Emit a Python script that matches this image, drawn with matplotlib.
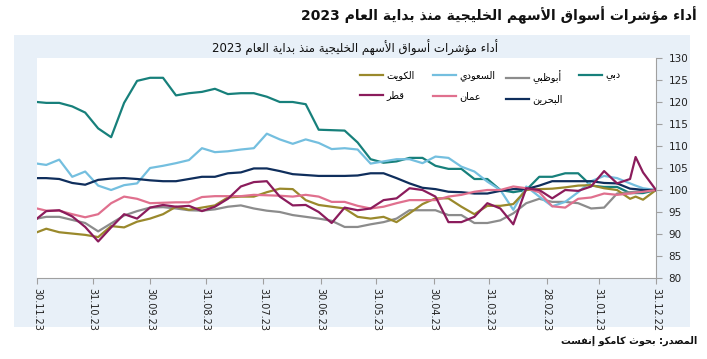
import re
import matplotlib
matplotlib.use("Agg")
import matplotlib.pyplot as plt
from matplotlib.patches import Rectangle
import pandas as pd

title_outer = "أداء مؤشرات أسواق الأسهم الخليجية منذ بداية العام 2023"
title_inner = "أداء مؤشرات أسواق الأسهم الخليجية منذ بداية العام 2023"
source_text = "المصدر: بحوث كامكو إنفست"

dates = ["2022-12-31", "2023-01-07", "2023-01-11", "2023-01-14", "2023-01-21", "2023-01-28",
         "2023-02-04", "2023-02-11", "2023-02-18", "2023-02-25", "2023-03-04", "2023-03-11",
         "2023-03-18", "2023-03-25", "2023-04-01", "2023-04-08", "2023-04-15", "2023-04-22",
         "2023-04-29", "2023-05-06", "2023-05-13", "2023-05-20", "2023-05-27", "2023-06-03",
         "2023-06-10", "2023-06-17", "2023-06-24", "2023-07-01", "2023-07-08", "2023-07-15",
         "2023-07-22", "2023-07-29", "2023-08-05", "2023-08-12", "2023-08-19", "2023-08-26",
         "2023-09-02", "2023-09-09", "2023-09-16", "2023-09-23", "2023-09-30", "2023-10-07",
         "2023-10-14", "2023-10-21", "2023-10-28", "2023-11-04", "2023-11-11", "2023-11-18",
         "2023-11-25", "2023-11-30"]

dubai = [100, 99.3, 99.3, 99.3, 100.7, 100.7, 101, 103.8, 103.8, 103, 103, 100, 99.5, 100,
         102.5, 102.5, 104.8, 104.8, 105.5, 107.3, 107.3, 106.5, 106.2, 107, 110.8, 113.5,
         113.6, 113.7, 119.5, 120, 120, 121.2, 122, 122, 121.8, 123, 122.3, 122, 121.5, 125.5,
         125.5, 124.8, 119.8, 112, 114, 117.6, 119, 119.8, 119.8, 120]
abudhabi = [100, 99.8, 99.6, 99.5, 99.2, 96, 95.8, 97, 97.3, 97.3, 98, 97, 94.7, 93.1, 92.5,
            92.5, 94.3, 94.3, 95.4, 95.4, 95.4, 93.5, 92.7, 92.2, 91.6, 91.6, 93, 93.5, 93.9,
            94.3, 95, 95.3, 95.8, 96.5, 96.2, 95.6, 95.3, 95.4, 95.8, 96.1, 96, 95.2, 94.2,
            92.4, 90.6, 92.5, 93.2, 93.9, 93.9, 93.5]
saudi = [100, 100.4, 101, 101.5, 102.7, 103.2, 102, 99.5, 97.3, 96.3, 98.5, 100.8, 95.5, 100,
         101.9, 104.2, 105.3, 107.3, 107.6, 106.1, 107, 107, 106.5, 106, 109.2, 109.5, 109.3,
         110.7, 111.5, 110.5, 111.5, 112.8, 109.5, 109.2, 108.8, 108.6, 109.5, 106.8, 106.1,
         105.5, 105, 101.5, 101.1, 100, 101, 104.2, 103, 106.9, 105.7, 106]
kuwait = [100, 97.8, 98.5, 98, 100, 100.4, 101.1, 101, 100.6, 100.3, 100.2, 100, 96.8, 96.4,
          96.4, 94.5, 96.2, 98.1, 98.1, 96.8, 94.7, 92.7, 93.9, 93.5, 93.9, 95.8, 96.2, 96.6,
          97.7, 100.2, 100.3, 99.5, 98.5, 98.5, 98.3, 96.5, 96, 95.5, 96.2, 94.5, 93.5, 92.8,
          91.5, 91.8, 89.3, 89.8, 90.1, 90.4, 91.2, 90.4]
bahrain = [100, 100, 100.2, 100.3, 101.5, 101.6, 102, 102, 102, 102, 101, 100.2, 100.2, 99.8,
           99.2, 99.2, 99.5, 99.6, 100.2, 100.5, 101.5, 102.7, 103.8, 103.8, 103.3, 103.2,
           103.2, 103.2, 103.4, 103.6, 104.3, 104.9, 104.9, 104, 103.8, 103, 103, 102.5, 102,
           102, 102.2, 102.5, 102.7, 102.6, 102.3, 101.2, 101.6, 102.5, 102.7, 102.7]
oman = [100, 99.6, 99.4, 99.2, 98.9, 99.2, 98.3, 98, 96, 96.3, 99.5, 100.4, 100.8, 100, 100,
        99.6, 98.9, 98.5, 97.7, 97.7, 97.7, 97, 96.2, 95.8, 96.4, 97.3, 97.3, 98.5, 98.9, 98.5,
        98.7, 98.8, 98.9, 98.6, 98.6, 98.6, 98.4, 97.2, 97.2, 97.1, 97, 98, 98.5, 97, 94.5,
        93.8, 94.5, 95.3, 95.3, 95.8]
qatar = [100, 104, 107.5, 102.5, 101.5, 104.3, 100.8, 99.8, 100, 98.1, 100, 100.4, 92.2, 95.8,
         97, 93.9, 92.7, 92.7, 98.5, 100, 100.4, 98.1, 97.7, 95.8, 95.4, 96, 92.5, 95, 96.6,
         96.5, 98.5, 102, 101.8, 100.8, 98, 96.2, 95.2, 96.4, 96.2, 96.6, 96, 93.5, 94.5, 91.5,
         88.3, 91.6, 94, 95.4, 95.2, 93.5]

series_names = ["دبي", "أبوظبي", "السعودي", "الكويت", "البحرين", "عمان", "قطر"]
series_values = [dubai, abudhabi, saudi, kuwait, bahrain, oman, qatar]
series_colors = ["#17807b", "#8c8c8c", "#74bfdf", "#9a892c", "#0f2e5c", "#e0708e", "#8b1c5c"]

tick_dates = ["2023-11-30", "2023-10-31", "2023-09-30", "2023-08-31", "2023-07-31",
              "2023-06-30", "2023-05-31", "2023-04-30", "2023-03-31", "2023-02-28",
              "2023-01-31", "2022-12-31"]
tick_labels = ["30.11.23", "31.10.23", "30.09.23", "31.08.23", "31.07.23", "30.06.23",
               "31.05.23", "30.04.23", "31.03.23", "28.02.23", "31.01.23", "31.12.22"]
y_ticks = [80, 85, 90, 95, 100, 105, 110, 115, 120, 125, 130]

# Arabic presentation forms: isolated, final, initial, medial
FORMS = {
    'ء': '\uFE80', 'آ': '\uFE81\uFE82', 'أ': '\uFE83\uFE84', 'ؤ': '\uFE85\uFE86',
    'إ': '\uFE87\uFE88', 'ئ': '\uFE89\uFE8A\uFE8B\uFE8C', 'ا': '\uFE8D\uFE8E',
    'ب': '\uFE8F\uFE90\uFE91\uFE92', 'ة': '\uFE93\uFE94', 'ت': '\uFE95\uFE96\uFE97\uFE98',
    'ث': '\uFE99\uFE9A\uFE9B\uFE9C', 'ج': '\uFE9D\uFE9E\uFE9F\uFEA0',
    'ح': '\uFEA1\uFEA2\uFEA3\uFEA4', 'خ': '\uFEA5\uFEA6\uFEA7\uFEA8', 'د': '\uFEA9\uFEAA',
    'ذ': '\uFEAB\uFEAC', 'ر': '\uFEAD\uFEAE', 'ز': '\uFEAF\uFEB0',
    'س': '\uFEB1\uFEB2\uFEB3\uFEB4', 'ش': '\uFEB5\uFEB6\uFEB7\uFEB8',
    'ص': '\uFEB9\uFEBA\uFEBB\uFEBC', 'ض': '\uFEBD\uFEBE\uFEBF\uFEC0',
    'ط': '\uFEC1\uFEC2\uFEC3\uFEC4', 'ظ': '\uFEC5\uFEC6\uFEC7\uFEC8',
    'ع': '\uFEC9\uFECA\uFECB\uFECC', 'غ': '\uFECD\uFECE\uFECF\uFED0',
    'ف': '\uFED1\uFED2\uFED3\uFED4', 'ق': '\uFED5\uFED6\uFED7\uFED8',
    'ك': '\uFED9\uFEDA\uFEDB\uFEDC', 'ل': '\uFEDD\uFEDE\uFEDF\uFEE0',
    'م': '\uFEE1\uFEE2\uFEE3\uFEE4', 'ن': '\uFEE5\uFEE6\uFEE7\uFEE8',
    'ه': '\uFEE9\uFEEA\uFEEB\uFEEC', 'و': '\uFEED\uFEEE', 'ى': '\uFEEF\uFEF0',
    'ي': '\uFEF1\uFEF2\uFEF3\uFEF4',
}
LAM_ALEF = {'آ': '\uFEF5\uFEF6', 'أ': '\uFEF7\uFEF8', 'إ': '\uFEF9\uFEFA', 'ا': '\uFEFB\uFEFC'}


def shape(text):
    # join letters and put them in visual (right to left) order
    items = []
    i = 0
    while i < len(text):
        c = text[i]
        if c == 'ل' and i + 1 < len(text) and text[i + 1] in LAM_ALEF:
            items.append(('la', text[i + 1]))
            i += 2
        else:
            items.append(('c', c))
            i += 1

    def joins_next(it):
        return it[0] == 'c' and len(FORMS.get(it[1], '')) == 4

    def joins_prev(it):
        return it[0] == 'la' or len(FORMS.get(it[1], '')) >= 2

    out = []
    for j, it in enumerate(items):
        p = j > 0 and joins_next(items[j - 1]) and joins_prev(it)
        n = j + 1 < len(items) and joins_next(it) and joins_prev(items[j + 1])
        if it[0] == 'la':
            out.append(LAM_ALEF[it[1]][1 if p else 0])
        elif it[1] in FORMS:
            f = FORMS[it[1]]
            if len(f) == 1:
                out.append(f)
            elif len(f) == 2:
                out.append(f[1] if p else f[0])
            else:
                out.append(f[3] if (p and n) else f[1] if p else f[2] if n else f[0])
        else:
            out.append(it[1])
    s = ''.join(out)[::-1]
    return re.sub(r'[0-9]+', lambda m: m.group(0)[::-1], s)


plt.rcParams['font.family'] = ['DejaVu Sans']
W, H = 707, 359
fig = plt.figure(figsize=(W / 100, H / 100), dpi=100, facecolor='white')

fig.add_artist(Rectangle((14 / W, 1 - 327 / H), (690 - 14) / W, (327 - 35) / H,
                         transform=fig.transFigure, facecolor='#e8f0f8', edgecolor='none', zorder=0))

ax = fig.add_axes([37 / W, 1 - 278 / H, (656 - 37) / W, (278 - 58) / H])
ax.set_facecolor('white')

x = pd.to_datetime(dates)
lines = {}
for name, vals, col in zip(series_names, series_values, series_colors):
    ln, = ax.plot(x, vals, color=col, lw=1.6, label=shape(name))
    lines[name] = ln

ax.set_xlim(pd.Timestamp("2023-11-30"), pd.Timestamp("2022-12-31"))
ax.set_ylim(80, 130)
ax.set_xticks(pd.to_datetime(tick_dates))
ax.set_xticklabels(tick_labels, rotation=-90, fontsize=7, color='#222222')
ax.set_yticks(y_ticks)
ax.set_yticklabels([str(v) for v in y_ticks], fontsize=7.5, color='#222222')
ax.yaxis.tick_right()
ax.tick_params(axis='both', direction='out', length=4, width=0.8, color='#a0a0a0')
ax.tick_params(axis='y', pad=5)
ax.tick_params(axis='x', pad=3)
for side in ['left', 'top']:
    ax.spines[side].set_visible(False)
for side in ['right', 'bottom']:
    ax.spines[side].set_color('#a0a0a0')
    ax.spines[side].set_linewidth(0.8)

# legend laid out as four fixed-width columns
legend_cols = [["الكويت", "قطر"], ["السعودي", "عمان"], ["أبوظبي", "البحرين"], ["دبي"]]
col_x = [360, 433, 506, 579]
for names, cx in zip(legend_cols, col_x):
    fig.legend([lines[n] for n in names], [shape(n) for n in names],
               loc='upper left', bbox_to_anchor=(cx / W, 1 - 70 / H),
               frameon=False, fontsize=7, handlelength=2.4, handletextpad=0.3,
               labelspacing=1.05, borderpad=0, borderaxespad=0)

fig.text(355 / W, 1 - 48 / H, shape(title_inner), ha='center', va='center', fontsize=8.5,
         color='#111111')
fig.text(697 / W, 1 - 15 / H, shape(title_outer), ha='right', va='center', fontsize=10,
         fontweight='bold', color='#111111')
fig.text(697 / W, 1 - 341 / H, shape(source_text), ha='right', va='center', fontsize=7,
         fontweight='bold', color='#111111')

fig.savefig("out.png", dpi=100)
